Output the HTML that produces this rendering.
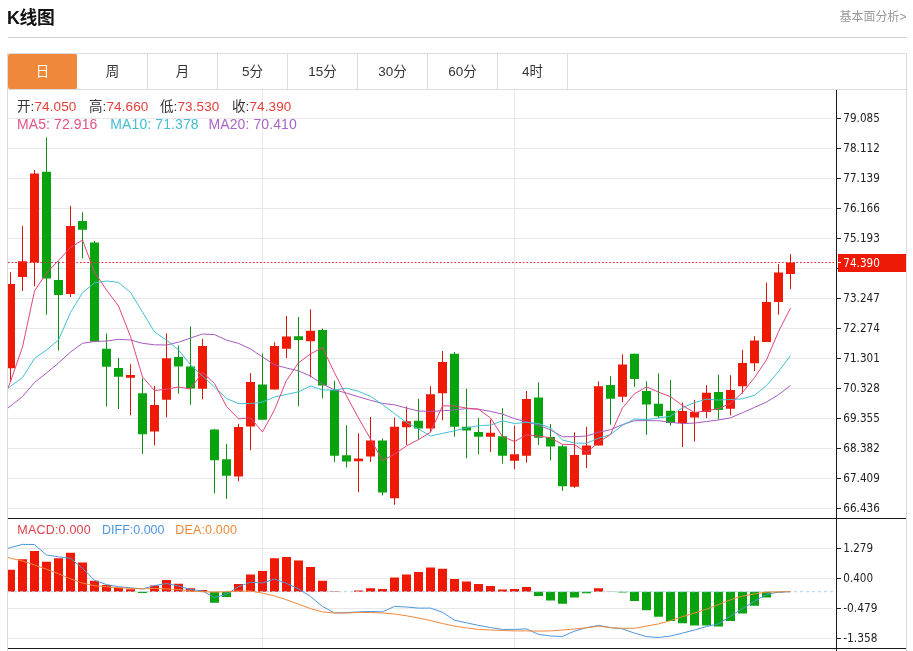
<!DOCTYPE html>
<html lang="zh-CN">
<head>
<meta charset="utf-8">
<title>K线图</title>
<style>
html,body{margin:0;padding:0;background:#fff;}
body{width:913px;height:651px;position:relative;overflow:hidden;font-family:"Liberation Sans","Noto Sans CJK SC",sans-serif;color:#222;}
.title{position:absolute;left:7px;top:6.1px;font-size:17.8px;font-weight:bold;line-height:24px;color:#111;letter-spacing:-0.3px;}
.more{position:absolute;right:6.5px;top:9.3px;font-size:12px;line-height:16px;color:#999;}
.hr{position:absolute;left:8px;top:37px;width:899px;height:1px;background:#d4d4d4;}
.tabs{position:absolute;left:7px;top:53px;width:898px;height:35px;border:1px solid #dcdcdc;background:#fff;}
.tab{float:left;width:69px;height:35px;border-right:1px solid #dcdcdc;text-align:center;font-size:13.5px;line-height:36.4px;color:#333;}
.tab.on{background:#f0883c;color:#fff;border-right-color:#fff;border-radius:2px;}
.chart{position:absolute;left:0;top:0;}
.lg{position:absolute;white-space:nowrap;font-size:13.5px;line-height:18px;}
.lg b{font-weight:normal;}
.k{color:#333} .v{color:#e33c38}
</style>
</head>
<body>
<div class="title">K线图</div>
<div class="more">基本面分析&gt;</div>
<div class="hr"></div>
<div class="tabs"><div class="tab on">日</div><div class="tab">周</div><div class="tab">月</div><div class="tab">5分</div><div class="tab">15分</div><div class="tab">30分</div><div class="tab">60分</div><div class="tab">4时</div></div>
<svg class="chart" width="913" height="651" viewBox="0 0 913 651">
<defs><clipPath id="cp"><rect x="8" y="90" width="828" height="561"/></clipPath></defs>
<path d="M8 118.5H833 M8 148.5H833 M8 178.5H833 M8 208.5H833 M8 238.5H833 M8 268.5H833 M8 298.5H833 M8 328.5H833 M8 358.5H833 M8 388.5H833 M8 418.5H833 M8 448.5H833 M8 478.5H833 M8 508.5H833 M8 548.5H833 M8 578.5H833 M8 608.5H833 M8 638.5H833 M262.5 90V648 M514.5 90V648" stroke="#e8e8ea" stroke-width="1" fill="none"/>
<path d="M7.5 90V651M906.5 90V651" stroke="#d9d9d9" stroke-width="1" fill="none"/>
<g clip-path="url(#cp)">
<path d="M10.5 272.3V382 M22.5 226.1V291 M34.5 170V286.2 M70.5 205.9V297 M130.5 364.2V415.2 M154.5 386V445.3 M166.5 333.4V417.4 M202.5 338.8V399.2 M238.5 423.8V481.3 M250.5 373.1V450.3 M274.5 342.3V389.5 M286.5 316V358.1 M310.5 309.3V377.3 M358.5 433.4V492.3 M370.5 417V461.9 M394.5 417.6V504.8 M406.5 406.4V445 M430.5 386.2V432.3 M442.5 351V420.2 M490.5 419.6V452.1 M514.5 425.7V469.2 M526.5 391V462.6 M574.5 432.3V487.9 M586.5 426.8V468.1 M598.5 381.3V445.5 M622.5 354.3V402 M682.5 402.6V447 M694.5 399.8V441.5 M706.5 385.1V418 M730.5 375.2V415.4 M742.5 349.9V393.8 M754.5 336.2V371 M766.5 282.7V342 M778.5 264.1V314.6 M790.5 254.2V289.3" stroke="#d8160a" stroke-width="1" fill="none"/>
<path d="M46.5 137.5V314.7 M58.5 261.3V350.5 M82.5 212.3V258.3 M94.5 241V341.5 M106.5 333.4V406.4 M118.5 358V409 M142.5 378.3V454.1 M178.5 345.5V393.7 M190.5 326.4V404.8 M214.5 429V493.4 M226.5 443.9V498.8 M262.5 353.3V419.7 M298.5 317V406.2 M322.5 328.5V398.3 M334.5 380.8V461.9 M346.5 425.2V467.4 M382.5 438.4V495.5 M418.5 398.9V440 M454.5 352V436.7 M466.5 388.8V458.2 M478.5 418V454.3 M502.5 408.1V463.7 M538.5 382.4V445 M550.5 424V460.4 M562.5 445V490.8 M610.5 376.3V424.6 M634.5 353.8V386.8 M646.5 381.3V434.9 M658.5 373.4V418 M670.5 380V425.7 M718.5 374.7V419.6" stroke="#0c8f14" stroke-width="1" fill="none"/>
<path d="M6 284h9v84.3h-9z M18 261.3h9v15.6h-9z M30 173.4h9v89.2h-9z M66 225.9h9v68.1h-9z M126 375h9v2.7h-9z M150 405.1h9v26.4h-9z M162 358.2h9v41.6h-9z M198 346h9v42.7h-9z M234 426.9h9v49.7h-9z M246 381.9h9v44.6h-9z M270 346h9v43.5h-9z M282 336.6h9v12.1h-9z M306 330.7h9v10.5h-9z M354 458.6h9v2.7h-9z M366 440.6h9v15.8h-9z M390 426.8h9v71.4h-9z M402 421.3h9v6h-9z M426 394.3h9v34.3h-9z M438 362h9v31.2h-9z M486 432.7h9v4h-9z M510 454.3h9v6.4h-9z M522 398.9h9v56.9h-9z M570 455h9v31.8h-9z M582 445.5h9v9.2h-9z M594 386.2h9v59.3h-9z M618 364.6h9v32.1h-9z M678 411h9v12.1h-9z M690 412.1h9v5.3h-9z M702 392.7h9v19.4h-9z M726 390.1h9v18.7h-9z M738 363.1h9v23.1h-9z M750 340.6h9v22.7h-9z M762 302.1h9v39.9h-9z M774 272.4h9v29.7h-9z M786 262.5h9v11.5h-9z" fill="#ee1a06"/>
<path d="M42 171.8h9v106.7h-9z M54 280h9v15h-9z M78 221h9v8.8h-9z M90 242.4h9v99.1h-9z M102 348.8h9v18h-9z M114 368.1h9v8.6h-9z M138 393.2h9v41.1h-9z M174 357h9v9.4h-9z M186 366.5h9v21.9h-9z M210 429.6h9v30.6h-9z M222 459.3h9v16.5h-9z M258 384.5h9v35.2h-9z M294 336.2h9v3.9h-9z M318 330h9v55.6h-9z M330 389.9h9v65.9h-9z M342 455.3h9v6.2h-9z M378 440.6h9v51.9h-9z M414 420.7h9v7.9h-9z M450 353.8h9v73h-9z M462 426.8h9v3.7h-9z M474 431.9h9v4.8h-9z M498 436.3h9v19.5h-9z M534 397.6h9v40.2h-9z M546 437.1h9v9.5h-9z M558 446.2h9v40h-9z M606 385.1h9v13.6h-9z M630 353.8h9v25.1h-9z M642 391h9v13.4h-9z M654 403.7h9v12.6h-9z M666 410.8h9v12.1h-9z M714 392.1h9v17.8h-9z" fill="#08a30e"/>
<path d="M8 408 L10.5 406 L22.5 396.5 L34.5 382.5 L46.5 373 L58.5 363 L70.5 352 L82.5 343.3 L94.5 341.5 L106.5 341 L118.5 339.3 L130.5 340 L142.5 343.3 L154.5 344.8 L166.5 345 L178.5 342.2 L190.5 338 L202.5 334 L214.5 334.6 L226.5 340.1 L238.5 343.4 L250.5 348.9 L262.5 357 L274.5 364.7 L286.5 368 L298.5 370.9 L310.5 376 L322.5 384.2 L334.5 389.8 L346.5 393.1 L358.5 396.8 L370.5 400.3 L382.5 403.4 L394.5 404.8 L406.5 408.1 L418.5 411 L430.5 411.4 L442.5 410.8 L454.5 409.9 L466.5 408.6 L478.5 409.2 L490.5 411.4 L502.5 414.1 L514.5 418.7 L526.5 421.8 L538.5 425 L550.5 430 L562.5 436.7 L574.5 436.7 L586.5 436 L598.5 432.3 L610.5 429.7 L622.5 424.6 L634.5 420.7 L646.5 420.7 L658.5 420.7 L670.5 422.4 L682.5 423.5 L694.5 423.1 L706.5 421.5 L718.5 420 L730.5 417.8 L742.5 412.7 L754.5 407.4 L766.5 402 L778.5 394.7 L790.5 385.5" stroke="#a75bbd" stroke-width="1.0" fill="none" stroke-linejoin="round"/>
<path d="M8 388.3 L10.5 386.3 L22.5 377.5 L34.5 358.5 L46.5 350 L58.5 340 L70.5 312.5 L82.5 292.7 L94.5 282.9 L106.5 281 L118.5 282.4 L130.5 292.5 L142.5 312 L154.5 332 L166.5 340 L178.5 350 L190.5 364.8 L202.5 376 L214.5 387 L226.5 398.5 L238.5 403.6 L250.5 403.6 L262.5 402.1 L274.5 397 L286.5 394.4 L298.5 391.8 L310.5 386 L322.5 390 L334.5 390 L346.5 388.2 L358.5 391.3 L370.5 396.3 L382.5 404.5 L394.5 413.6 L406.5 422.4 L418.5 429 L430.5 436 L442.5 433.4 L454.5 430.8 L466.5 427.9 L478.5 425.7 L490.5 425.1 L502.5 420.9 L514.5 423.5 L526.5 422.4 L538.5 423.5 L550.5 427.9 L562.5 440 L574.5 443 L586.5 443.3 L598.5 438.2 L610.5 434.5 L622.5 425.3 L634.5 419.1 L646.5 419.6 L658.5 418 L670.5 416.3 L682.5 407.7 L694.5 402.6 L706.5 399.1 L718.5 400.1 L730.5 399.5 L742.5 398.8 L754.5 395.3 L766.5 385.5 L778.5 371.5 L790.5 355.6" stroke="#3fc1d3" stroke-width="1.0" fill="none" stroke-linejoin="round"/>
<path d="M8 388 L10.5 381.5 L22.5 347 L34.5 291 L46.5 273 L58.5 260.5 L70.5 247.5 L82.5 240 L94.5 272.1 L106.5 290 L118.5 306 L130.5 336.5 L142.5 377 L154.5 390.5 L166.5 389.3 L178.5 387 L190.5 389 L202.5 372.4 L214.5 383.5 L226.5 406.5 L238.5 418.8 L250.5 417.8 L262.5 432 L274.5 409.8 L286.5 380.3 L298.5 362.8 L310.5 353.9 L322.5 347.6 L334.5 372.9 L346.5 396 L358.5 418 L370.5 439 L382.5 460.5 L394.5 454.3 L406.5 445.9 L418.5 439.6 L430.5 432.3 L442.5 405.9 L454.5 405.9 L466.5 408.1 L478.5 409.2 L490.5 418 L502.5 436.5 L514.5 441.5 L526.5 434.9 L538.5 436 L550.5 437.8 L562.5 444.4 L574.5 444.6 L586.5 452.6 L598.5 442.2 L610.5 434.5 L622.5 407.9 L634.5 393.8 L646.5 386.8 L658.5 392.1 L670.5 396.7 L682.5 405.5 L694.5 412.5 L706.5 410.8 L718.5 408.5 L730.5 403.5 L742.5 392.5 L754.5 377.6 L766.5 359.8 L778.5 331.6 L790.5 308" stroke="#e2457f" stroke-width="1.0" fill="none" stroke-linejoin="round"/>
<path d="M6 569.8h9V591.7h-9z M18 559.3h9V591.7h-9z M30 551h9V591.7h-9z M42 561.7h9V591.7h-9z M54 558.2h9V591.7h-9z M66 552.7h9V591.7h-9z M78 562.6h9V591.7h-9z M90 580.8h9V591.7h-9z M102 585.1h9V591.7h-9z M114 587.8h9V591.7h-9z M126 589.3h9V591.7h-9z M150 585.6h9V591.7h-9z M162 580.1h9V591.7h-9z M174 583.8h9V591.7h-9z M186 588.2h9V591.7h-9z M198 590h9V591.7h-9z M234 584h9V591.7h-9z M246 574.6h9V591.7h-9z M258 570.9h9V591.7h-9z M270 558.2h9V591.7h-9z M282 557.1h9V591.7h-9z M294 560.4h9V591.7h-9z M306 567h9V591.7h-9z M318 580.8h9V591.7h-9z M330 591.2h9V591.7h-9z M354 590.4h9V591.7h-9z M366 588.2h9V591.7h-9z M378 588.9h9V591.7h-9z M390 577.5h9V591.7h-9z M402 574.6h9V591.7h-9z M414 572h9V591.7h-9z M426 567.4h9V591.7h-9z M438 568.7h9V591.7h-9z M450 579h9V591.7h-9z M462 581.6h9V591.7h-9z M474 584h9V591.7h-9z M486 586h9V591.7h-9z M498 589.5h9V591.7h-9z M510 588.9h9V591.7h-9z M522 587.1h9V591.7h-9z M594 588.2h9V591.7h-9z M606 591.4h9V591.7h-9z" fill="#ee1a06"/>
<path d="M138 591.7h9V593h-9z M210 591.7h9V602.7h-9z M222 591.7h9V597h-9z M534 591.7h9V596.1h-9z M546 591.7h9V600.5h-9z M558 591.7h9V603.8h-9z M570 591.7h9V597.6h-9z M582 591.7h9V593.2h-9z M618 591.7h9V592.4h-9z M630 591.7h9V600.9h-9z M642 591.7h9V610.3h-9z M654 591.7h9V616.7h-9z M666 591.7h9V621.1h-9z M678 591.7h9V623.3h-9z M690 591.7h9V625.4h-9z M702 591.7h9V625.4h-9z M714 591.7h9V626.5h-9z M726 591.7h9V621.1h-9z M738 591.7h9V613.6h-9z M750 591.7h9V605.7h-9z M762 591.7h9V597.6h-9z M774 591.7h9V592.4h-9z" fill="#08a30e"/>
<path d="M8 591.7H836" stroke="#a9d2f0" stroke-width="1" stroke-dasharray="3 3" fill="none"/>
<path d="M8 548.5 L10.5 547.5 L22.5 544.4 L34.5 544.5 L46.5 555 L58.5 556.8 L70.5 558.3 L82.5 568.3 L94.5 580.3 L106.5 584.6 L118.5 586.7 L130.5 587.8 L142.5 588.9 L154.5 585.6 L166.5 583.5 L178.5 586 L190.5 589.5 L202.5 591 L214.5 597.6 L226.5 594.3 L238.5 586.7 L250.5 582.3 L262.5 583 L274.5 579 L286.5 583.4 L298.5 588.9 L310.5 596.5 L322.5 606.4 L334.5 613 L346.5 612.5 L358.5 611.9 L370.5 611.4 L382.5 611.9 L394.5 606.4 L406.5 607 L418.5 608.1 L430.5 608.1 L442.5 612.3 L454.5 620.2 L466.5 622.8 L478.5 625.4 L490.5 627.6 L502.5 629.4 L514.5 629.4 L526.5 628.9 L538.5 634.4 L550.5 636 L562.5 636.4 L574.5 631.1 L586.5 627.6 L598.5 625.4 L610.5 627.6 L622.5 628.9 L634.5 633.1 L646.5 636.6 L658.5 637.5 L670.5 636 L682.5 633.1 L694.5 630 L706.5 626.5 L718.5 623.9 L730.5 616.2 L742.5 608.6 L754.5 601.3 L766.5 594.3 L778.5 592.1 L790.5 591.7" stroke="#4e97e0" stroke-width="1.0" fill="none" stroke-linejoin="round"/>
<path d="M8 557.5 L10.5 558.2 L22.5 561 L34.5 565 L46.5 569.3 L58.5 573.7 L70.5 578.8 L82.5 583.1 L94.5 585.7 L106.5 586.8 L118.5 587.8 L130.5 588.4 L142.5 588.9 L154.5 588.4 L166.5 588.9 L178.5 589.5 L190.5 591 L202.5 591.7 L214.5 592.1 L226.5 591.7 L238.5 591 L250.5 591 L262.5 593.2 L274.5 595.9 L286.5 599.8 L298.5 604.2 L310.5 608.6 L322.5 611.9 L334.5 613 L346.5 613 L358.5 612.5 L370.5 612.5 L382.5 613 L394.5 614 L406.5 615.8 L418.5 618 L430.5 620.6 L442.5 623.5 L454.5 626.1 L466.5 627.9 L478.5 629.4 L490.5 630 L502.5 630.5 L514.5 630.9 L526.5 630.9 L538.5 631.1 L550.5 630.9 L562.5 630 L574.5 629 L586.5 627.9 L598.5 626.1 L610.5 627.6 L622.5 628.3 L634.5 628.3 L646.5 626.1 L658.5 623.9 L670.5 620.6 L682.5 616.7 L694.5 613 L706.5 609.2 L718.5 604.6 L730.5 599.8 L742.5 596.1 L754.5 593.9 L766.5 592.1 L778.5 591.9 L790.5 591.7" stroke="#f0883a" stroke-width="1.0" fill="none" stroke-linejoin="round"/>
</g>
<path d="M8 262.5H836" stroke="#e2283a" stroke-width="1" stroke-dasharray="1.7 1.9" fill="none"/>
<path d="M836.5 90V651M8 518.5H906M8 648.5H906" stroke="#1a1a1a" stroke-width="1" fill="none"/>
<path d="M837 118.5h4 M837 148.5h4 M837 178.5h4 M837 208.5h4 M837 238.5h4 M837 268.5h4 M837 298.5h4 M837 328.5h4 M837 358.5h4 M837 388.5h4 M837 418.5h4 M837 448.5h4 M837 478.5h4 M837 508.5h4 M837 548.5h4 M837 578.5h4 M837 608.5h4 M837 638.5h4" stroke="#222" stroke-width="1" fill="none"/>
<g font-family="'DejaVu Sans', 'Liberation Sans', sans-serif" font-size="13" fill="#222">
<text x="843.3" y="122.3" textLength="36.5" lengthAdjust="spacingAndGlyphs">79.085</text>
<text x="843.3" y="152.3" textLength="36.5" lengthAdjust="spacingAndGlyphs">78.112</text>
<text x="843.3" y="182.3" textLength="36.5" lengthAdjust="spacingAndGlyphs">77.139</text>
<text x="843.3" y="212.3" textLength="36.5" lengthAdjust="spacingAndGlyphs">76.166</text>
<text x="843.3" y="242.3" textLength="36.5" lengthAdjust="spacingAndGlyphs">75.193</text>
<text x="843.3" y="272.3" textLength="36.5" lengthAdjust="spacingAndGlyphs">74.220</text>
<text x="843.3" y="302.3" textLength="36.5" lengthAdjust="spacingAndGlyphs">73.247</text>
<text x="843.3" y="332.3" textLength="36.5" lengthAdjust="spacingAndGlyphs">72.274</text>
<text x="843.3" y="362.3" textLength="36.5" lengthAdjust="spacingAndGlyphs">71.301</text>
<text x="843.3" y="392.3" textLength="36.5" lengthAdjust="spacingAndGlyphs">70.328</text>
<text x="843.3" y="422.3" textLength="36.5" lengthAdjust="spacingAndGlyphs">69.355</text>
<text x="843.3" y="452.3" textLength="36.5" lengthAdjust="spacingAndGlyphs">68.382</text>
<text x="843.3" y="482.3" textLength="36.5" lengthAdjust="spacingAndGlyphs">67.409</text>
<text x="843.3" y="512.3" textLength="36.5" lengthAdjust="spacingAndGlyphs">66.436</text>
<text x="843.3" y="552.3" textLength="29.8" lengthAdjust="spacingAndGlyphs">1.279</text>
<text x="843.3" y="582.3" textLength="29.8" lengthAdjust="spacingAndGlyphs">0.400</text>
<text x="843.3" y="612.3" textLength="34.2" lengthAdjust="spacingAndGlyphs">-0.479</text>
<text x="843.3" y="642.3" textLength="34.2" lengthAdjust="spacingAndGlyphs">-1.358</text>
</g>
<rect x="838" y="254" width="68" height="18" fill="#ee1a06"/>
<path d="M837 262.5h4" stroke="#fff" stroke-width="1"/>
<text x="843.3" y="267" font-family="'DejaVu Sans', 'Liberation Sans', sans-serif" font-size="13" fill="#fff" textLength="36.5" lengthAdjust="spacingAndGlyphs">74.390</text>
</svg>
<div class="lg" style="left:17px;top:97.5px;letter-spacing:0.1px"><span class="k">开:</span><span class="v">74.050</span></div>
<div class="lg" style="left:89px;top:97.5px;letter-spacing:0.1px"><span class="k">高:</span><span class="v">74.660</span></div>
<div class="lg" style="left:160px;top:97.5px;letter-spacing:0.1px"><span class="k">低:</span><span class="v">73.530</span></div>
<div class="lg" style="left:232px;top:97.5px;letter-spacing:0.1px"><span class="k">收:</span><span class="v">74.390</span></div>
<div class="lg" style="left:17px;top:115px;font-size:14px;letter-spacing:0.1px;color:#e4508a">MA5: 72.916</div>
<div class="lg" style="left:110.3px;top:115px;font-size:14px;letter-spacing:0.1px;color:#45bdd3">MA10: 71.378</div>
<div class="lg" style="left:208.5px;top:115px;font-size:14px;letter-spacing:0.1px;color:#a865c3">MA20: 70.410</div>
<div class="lg" style="left:17.3px;top:521.3px;font-size:12.5px;letter-spacing:0.2px;color:#e0404a">MACD:0.000</div>
<div class="lg" style="left:102px;top:521.3px;font-size:12.5px;color:#4e97e0">DIFF:0.000</div>
<div class="lg" style="left:175.3px;top:521.3px;font-size:12.5px;letter-spacing:0.15px;color:#f0883a">DEA:0.000</div>
</body>
</html>
